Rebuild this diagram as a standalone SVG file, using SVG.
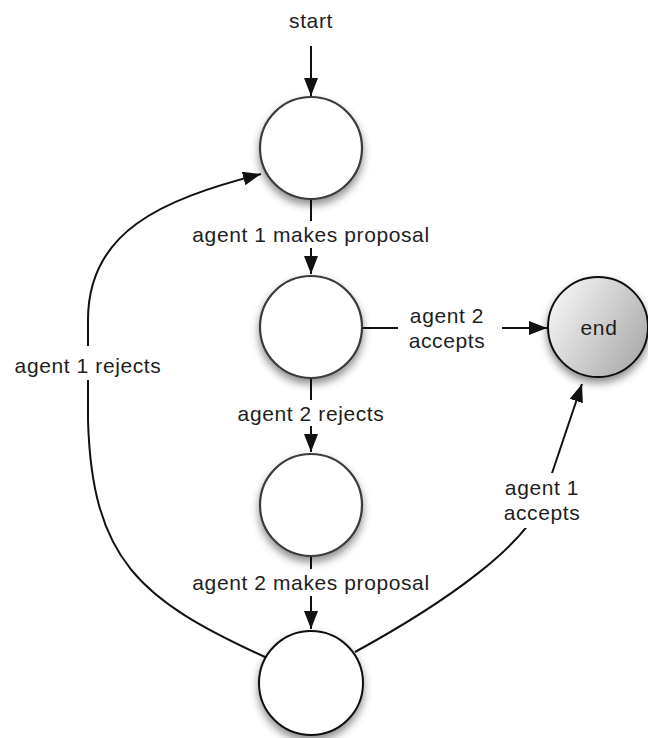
<svg xmlns="http://www.w3.org/2000/svg" width="648" height="738" viewBox="0 0 648 738">
<defs>
  <style>
    text { font-family: "Liberation Sans", Arial, sans-serif; font-size: 21px; fill: #1e1e1e; letter-spacing: 0.6px; text-anchor: middle; }
    .edge { fill: none; stroke: #111; stroke-width: 2; }
    .arrow { marker-end: url(#ah); }
    .state { fill: #fff; stroke: #3a3a3a; stroke-width: 2.2; filter: url(#shadow); }
    .final { fill: #fff; stroke: #111; stroke-width: 2; filter: url(#shadow); }
    .bg { fill: #fff; }
  </style>
  <marker id="ah" markerUnits="userSpaceOnUse" markerWidth="19" markerHeight="15" refX="18" refY="7" orient="auto" viewBox="0 0 19 15">
    <path d="M0,0 L18,7 L0,14 z" fill="#111"/>
  </marker>
  <filter id="shadow" x="-30%" y="-30%" width="160%" height="170%">
    <feDropShadow dx="0" dy="5" stdDeviation="4" flood-color="#000" flood-opacity="0.45"/>
  </filter>
  <linearGradient id="endGrad" x1="0" y1="0.2" x2="1" y2="0.8">
    <stop offset="0" stop-color="#f6f6f6"/>
    <stop offset="1" stop-color="#a9a9a9"/>
  </linearGradient>
</defs>

<g id="connectors">
  <path id="e-start" class="edge arrow" d="M311,46 L311,96"/>
  <path id="e-a1-proposal" class="edge arrow" d="M311,200 L311,274"/>
  <path id="e-a2-accepts" class="edge arrow" d="M363,328 L547,328"/>
  <path id="e-a2-rejects" class="edge arrow" d="M311,378 L311,452"/>
  <path id="e-a2-proposal" class="edge arrow" d="M311,557 L311,629"/>
  <path id="e-a1-rejects" class="edge arrow" d="M265,657 C140,600 92,560 88,420 L88,320 C88,232 160,200 261,174"/>
  <path id="e-a1-accepts" class="edge arrow" d="M355,652 C450,600 525,545 543,500 L582,384"/>
</g>

<g id="labels">
  <text x="311" y="28">start</text>
  <rect class="bg" x="185" y="221" width="250" height="27"/>
  <text x="311" y="242">agent 1 makes proposal</text>
  <rect class="bg" x="398" y="302" width="104" height="53"/>
  <text x="447" y="323">agent 2</text>
  <text x="447" y="348">accepts</text>
  <rect class="bg" x="232" y="400" width="158" height="26"/>
  <text x="311" y="421">agent 2 rejects</text>
  <rect class="bg" x="185" y="569" width="250" height="27"/>
  <text x="311" y="590">agent 2 makes proposal</text>
  <rect class="bg" x="8" y="346" width="160" height="34"/>
  <text x="88" y="373">agent 1 rejects</text>
  <rect class="bg" x="500" y="473" width="84" height="55"/>
  <text x="542" y="495">agent 1</text>
  <text x="542" y="520">accepts</text>
</g>

<g id="node-s1">
  <circle class="state" cx="311" cy="148" r="51"/>
</g>
<g id="node-s2">
  <circle class="state" cx="311" cy="327" r="51"/>
</g>
<g id="node-s3">
  <circle class="state" cx="311" cy="505" r="51"/>
</g>
<g id="node-s4">
  <circle class="final" cx="311" cy="683" r="52"/>
</g>
<g id="node-end">
  <circle cx="598" cy="327" r="50" fill="url(#endGrad)" stroke="#111" stroke-width="2" filter="url(#shadow)"/>
  <text x="599" y="335">end</text>
</g>
</svg>
